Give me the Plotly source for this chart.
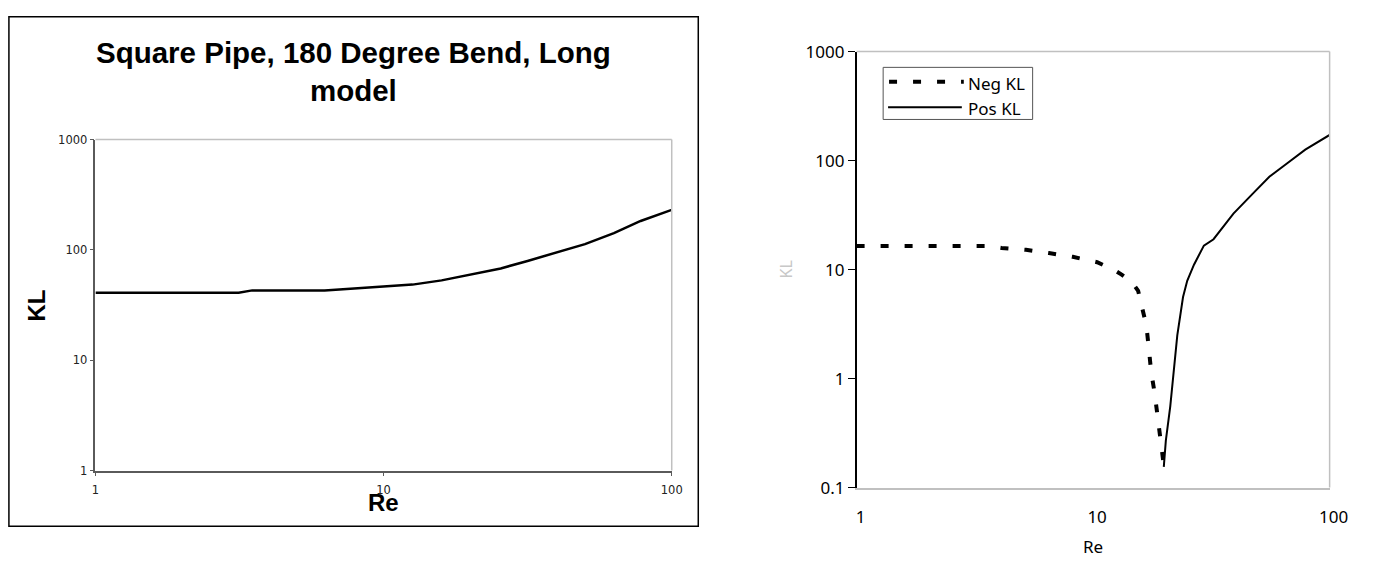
import plotly.graph_objects as go

# ---------------- data ----------------
# Left chart: Square Pipe, 180 Degree Bend, Long model
left_re = [1, 1.25, 1.56, 1.98, 2.48, 3.14, 3.5, 5.0, 6.24, 7.9, 10, 12.6, 15.9,
           20, 25.5, 31.6, 40, 50, 63, 78, 100]
left_kl = [41, 41, 41, 41, 41, 41, 43, 43, 43, 44.8, 46.8, 48.5, 53,
           59.5, 68, 79.5, 94.5, 113, 142, 183, 231]

# Right chart: negative and positive KL branches
neg_re = [1, 2, 3, 3.6, 4.1, 5.2, 6.5, 8.2, 10.4, 12.2, 13.2, 14.5, 15.5,
          16.0, 16.8, 17.2, 17.6, 18.2, 18.8, 19.3, 19.9]
neg_kl = [16.5, 16.5, 16.5, 16.5, 15.8, 15.2, 14.2, 13.1, 11.7, 10.0, 9.0, 7.8, 6.4,
          4.75, 3.06, 1.9, 1.15, 0.74, 0.42, 0.27, 0.16]
pos_re = [19.9, 20.3, 21.2, 22.0, 22.7, 24.0, 25.0, 26.7, 29.4, 32.3, 39.2,
          47, 55.6, 66, 78.9, 100]
pos_kl = [0.155, 0.27, 0.56, 1.27, 2.5, 5.6, 7.9, 11.1, 16.6, 19.0, 32.6,
          49, 71, 94, 126, 172]

left_ticks = [1, 10, 100, 1000]
left_xticks = [1, 10, 100]
right_yticks = [0.1, 1, 10, 100, 1000]
right_xticks = [1, 10, 100]

W, H = 1385, 567


def px(x):
    return x / W


def py(y):
    return (H - y) / H


fig = go.Figure()

fig.add_trace(go.Scatter(x=left_re, y=left_kl, mode="lines",
                         line=dict(color="black", width=2.5),
                         xaxis="x", yaxis="y", showlegend=False, name="KL"))
fig.add_trace(go.Scatter(x=neg_re, y=neg_kl, mode="lines",
                         line=dict(color="black", width=4, dash="8px,16px"),
                         xaxis="x2", yaxis="y2", showlegend=False, name="Neg KL"))
fig.add_trace(go.Scatter(x=pos_re, y=pos_kl, mode="lines",
                         line=dict(color="black", width=2),
                         xaxis="x2", yaxis="y2", showlegend=False, name="Pos KL"))

left_axis_col = "#5a5a5a"
fig.update_layout(
    width=W, height=H,
    margin=dict(l=0, r=0, t=0, b=0),
    paper_bgcolor="white", plot_bgcolor="white",
    showlegend=False,
    xaxis=dict(type="log", range=[0, 2], domain=[px(93), px(679)],
               showgrid=False, zeroline=False,
               showline=True, linecolor=left_axis_col, linewidth=1.5,
               ticks="outside", ticklen=4, tickcolor=left_axis_col, tickwidth=1,
               tickmode="array", tickvals=left_xticks,
               ticktext=[str(v) for v in left_xticks],
               ticklabelstandoff=4,
               tickfont=dict(family="DejaVu Sans", size=11.5, color="#222"),
               anchor="y"),
    yaxis=dict(type="log", range=[0, 3], domain=[py(478), py(133)],
               showgrid=False, zeroline=False,
               showline=True, linecolor=left_axis_col, linewidth=1.5,
               ticks="outside", ticklen=4, tickcolor=left_axis_col, tickwidth=1,
               tickmode="array", tickvals=left_ticks,
               ticktext=[str(v) for v in left_ticks],
               tickfont=dict(family="DejaVu Sans", size=11.5, color="#222"),
               anchor="x"),
    xaxis2=dict(type="log", range=[0, 2], domain=[px(867), px(1348)],
                showgrid=False, zeroline=False,
                showline=True, linecolor="#c0c0c0", linewidth=1.5,
                ticks="", tickmode="array", tickvals=right_xticks,
                ticktext=[str(v) for v in right_xticks],
                ticklabelstandoff=13, ticklabelshift=4,
                tickfont=dict(family="Noto Sans", size=17, color="black"),
                anchor="y2"),
    yaxis2=dict(type="log", range=[-1, 3], domain=[py(495.7), py(41.3)],
                showgrid=False, zeroline=False,
                showline=True, linecolor="black", linewidth=1.5,
                ticks="outside", ticklen=7, tickcolor="black", tickwidth=1,
                tickmode="array", tickvals=right_yticks,
                ticktext=[("%g" % v) for v in right_yticks],
                tickfont=dict(family="Noto Sans", size=17, color="black"),
                anchor="x2"),
)

shapes = []
# top/right light borders of plot areas
for xr, yr in (("x", "y"), ("x2", "y2")):
    shapes.append(dict(type="line", xref=xr + " domain", yref=yr + " domain",
                       x0=0, x1=1, y0=1, y1=1, line=dict(color="#c0c0c0", width=1.5)))
    shapes.append(dict(type="line", xref=xr + " domain", yref=yr + " domain",
                       x0=1, x1=1, y0=0, y1=1, line=dict(color="#c0c0c0", width=1.5)))
# outer frame of left chart
shapes.append(dict(type="rect", xref="paper", yref="paper",
                   x0=px(5), x1=px(706), y0=py(536), y1=py(5),
                   line=dict(color="black", width=1.5)))
# manual legend for right chart
shapes.append(dict(type="rect", xref="paper", yref="paper",
                   x0=px(894), x1=px(1046), y0=py(112), y1=py(57.7),
                   line=dict(color="#555", width=1), fillcolor="white"))
shapes.append(dict(type="line", xref="paper", yref="paper",
                   x0=px(900), x1=px(976), y0=py(72.7), y1=py(72.7),
                   line=dict(color="black", width=4, dash="8px,16px")))
shapes.append(dict(type="line", xref="paper", yref="paper",
                   x0=px(899), x1=px(974), y0=py(99.3), y1=py(99.3),
                   line=dict(color="black", width=2)))
fig.update_layout(shapes=shapes)

annotations = [
    dict(text="<b>Square Pipe, 180 Degree Bend, Long</b><br><b>model</b>",
         xref="paper", yref="paper",
         x=px(355.5), y=py(61.5), xanchor="center", yanchor="middle", showarrow=False,
         font=dict(family="Liberation Sans", size=29.5, color="black"), align="center"),
    dict(text="<b>KL</b>", xref="paper", yref="paper", x=px(33), y=py(305.5),
         xanchor="center", yanchor="middle", showarrow=False, textangle=-90,
         font=dict(family="Liberation Sans", size=24, color="black")),
    dict(text="<b>Re</b>", xref="paper", yref="paper", x=px(386.3), y=py(511.5),
         xanchor="center", yanchor="middle", showarrow=False,
         font=dict(family="Liberation Sans", size=24, color="black")),
    dict(text="KL", xref="paper", yref="paper", x=px(795), y=py(268.5),
         xanchor="center", yanchor="middle", showarrow=False, textangle=-90,
         font=dict(family="Noto Sans", size=16, color="#c8c8c8")),
    dict(text="Re", xref="paper", yref="paper", x=px(1107.5), y=py(557),
         xanchor="center", yanchor="middle", showarrow=False,
         font=dict(family="Noto Sans", size=17, color="black")),
    dict(text="Neg KL", xref="paper", yref="paper", x=px(978), y=py(75),
         xanchor="left", yanchor="middle", showarrow=False,
         font=dict(family="Noto Sans", size=17, color="black")),
    dict(text="Pos KL", xref="paper", yref="paper", x=px(978), y=py(100.5),
         xanchor="left", yanchor="middle", showarrow=False,
         font=dict(family="Noto Sans", size=17, color="black")),
]
fig.update_layout(annotations=annotations)

fig.write_html("out.html",
               config={"displayModeBar": False},
               post_script="document.body.style.margin='0px';"
                           "document.body.style.overflow='hidden';")
